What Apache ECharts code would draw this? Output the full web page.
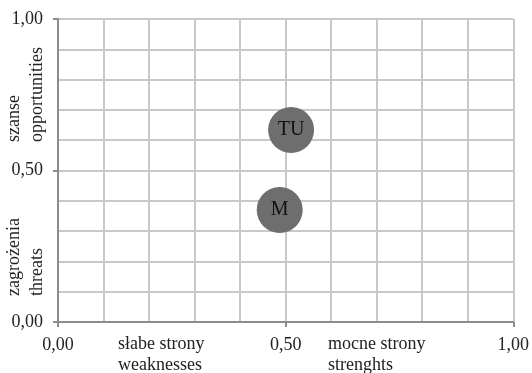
<!DOCTYPE html>
<html>
<head>
<meta charset="utf-8">
<script src="https://cdn.jsdelivr.net/npm/echarts@6/dist/echarts.min.js"></script>
<style>
  html, body { margin: 0; padding: 0; background: #fff; }
  #chart { width: 532px; height: 373px; }
</style>
</head>
<body>
<div id="chart"></div>
<script>
// bubbles: name, x (strengths), y (opportunities)
var names = ['TU', 'M'];
var xValues = [0.512, 0.487];
var yValues = [0.634, 0.37];

var font = '"Liberation Serif", "Times New Roman", serif';

function fmt(v) {
    return v.toFixed(2).replace('.', ',');
}

var points = [];
for (var i = 0; i < names.length; i++) {
    points.push({ name: names[i], value: [xValues[i], yValues[i]] });
}

var gridStyle = { color: '#c8c8c8', width: 2 };
var axisStyle = { color: '#8c8c8c', width: 2 };

var option = {
    animation: false,
    grid: { left: 58, right: 16, top: 19, bottom: 51 },
    xAxis: {
        type: 'value', min: 0, max: 1, interval: 0.5,
        axisLine: { show: true, lineStyle: axisStyle },
        axisTick: { show: true, length: 5, lineStyle: axisStyle },
        axisLabel: { margin: 14, fontFamily: font, fontSize: 18, color: '#222', formatter: fmt },
        splitLine: { show: true, lineStyle: gridStyle },
        minorTick: { show: false, splitNumber: 5 },
        minorSplitLine: { show: true, lineStyle: gridStyle }
    },
    yAxis: {
        type: 'value', min: 0, max: 1, interval: 0.5,
        axisLine: { show: true, lineStyle: axisStyle },
        axisTick: { show: true, length: 5, lineStyle: axisStyle },
        axisLabel: { margin: 15, fontFamily: font, fontSize: 18, color: '#222', formatter: fmt },
        splitLine: { show: true, lineStyle: gridStyle },
        minorTick: { show: false, splitNumber: 5 },
        minorSplitLine: { show: true, lineStyle: gridStyle }
    },
    series: [{
        type: 'scatter',
        symbolSize: 46,
        itemStyle: { color: '#6e6e6e', opacity: 1 },
        label: {
            show: true, position: 'inside', formatter: '{b}',
            fontFamily: font, fontSize: 20, color: '#111'
        },
        data: points
    }],
    graphic: [
        {
            type: 'text', x: 26, y: 142, rotation: Math.PI / 2,
            style: { text: 'szanse\nopportunities', font: '18px ' + font, fill: '#222',
                     textAlign: 'left', textVerticalAlign: 'middle', lineHeight: 23 }
        },
        {
            type: 'text', x: 26, y: 296, rotation: Math.PI / 2,
            style: { text: 'zagrożenia\nthreats', font: '18px ' + font, fill: '#222',
                     textAlign: 'left', textVerticalAlign: 'middle', lineHeight: 23 }
        },
        {
            type: 'text', x: 118, y: 334,
            style: { text: 'słabe strony\nweaknesses', font: '18px ' + font, fill: '#222',
                     textAlign: 'left', textVerticalAlign: 'top', lineHeight: 21 }
        },
        {
            type: 'text', x: 328, y: 334,
            style: { text: 'mocne strony\nstrenghts', font: '18px ' + font, fill: '#222',
                     textAlign: 'left', textVerticalAlign: 'top', lineHeight: 21 }
        }
    ]
};

var chart = echarts.init(document.getElementById('chart'));
chart.setOption(option);
</script>
</body>
</html>
